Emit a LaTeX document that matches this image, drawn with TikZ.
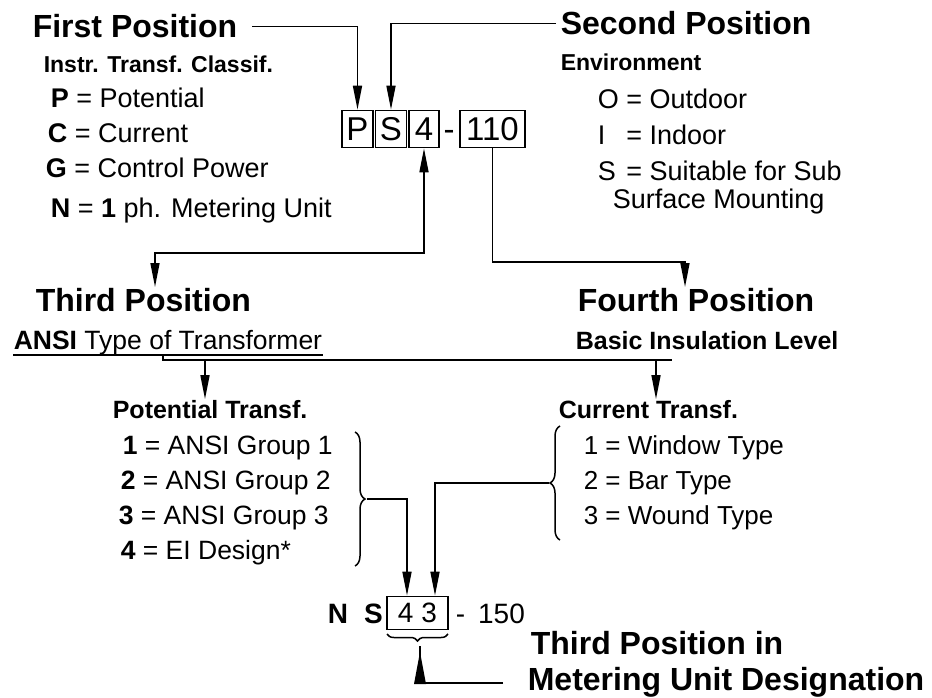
\documentclass[tikz,border=0pt]{standalone}
\usepackage{fontspec}
\setmainfont{Liberation Sans}
\usetikzlibrary{arrows.meta,decorations.pathreplacing,calc}
\newcommand\fsz[1]{\fontsize{#1}{#1}\selectfont}
\begin{document}
\begin{tikzpicture}[x=1pt,y=-1pt,line width=1.6pt,
  txt/.style={inner sep=0pt,anchor=base west},
  head/.style={txt,font=\fsz{32}\bfseries},
  sub/.style={txt,font=\fsz{23}\bfseries},
  item/.style={txt,font=\fsz{27}},
  itemb/.style={txt,font=\fsz{26.5}},
  codebox/.style={draw,line width=1.8pt,inner sep=0pt,minimum height=37pt,font=\fsz{33}},
  arr/.style={-{Triangle[length=24pt,width=9pt]}},
  dbl/.style={{Triangle[length=24pt,width=9pt]}-{Triangle[length=24pt,width=9pt]}},
  brc/.style={decorate,decoration={brace,amplitude=10pt},line width=1.5pt},
  ubrc/.style={decorate,decoration={brace,amplitude=7pt},line width=1.5pt}
]
\useasboundingbox (0,0) rectangle (932,698);

% ---- top headings
\node[head] (fp) at (32,38) {First Position};
\node[head] (sp) at (560,35) {Second Position};

% ---- first position list
\node[sub] (instr) at (43,73) {Instr. Transf. Classif.};
\node[item] (ip) at (50,108) {\textbf{P} = Potential};
\node[item] (ic) at (47,143) {\textbf{C} = Current};
\node[item] (ig) at (45,178) {\textbf{G} = Control Power};
\node[item] (in) at (50,218) {\textbf{N} = \textbf{1} ph. Metering Unit};

% ---- second position list
\node[sub] (env) at (560,71) {Environment};
\node[item] (eo) at (597,109) {\makebox[21pt][l]{O} = Outdoor};
\node[item] (ei) at (597,145) {\makebox[21pt][l]{I} = Indoor};
\node[item] (es) at (597,180) {\makebox[21pt][l]{S} = Suitable for Sub};
\node[item] (es2) at (612,208) {Surface Mounting};

% ---- code boxes
\node[codebox,minimum width=31pt] (bP) at (357.5,129) {P};
\node[codebox,minimum width=31pt] (bS) at (391,129) {S};
\node[codebox,minimum width=30pt] (b4) at (424,129) {4};
\node[inner sep=0pt,anchor=base,font=\fsz{33}] (dash) at (449,141) {-};
\node[codebox,minimum width=65pt] (b110) at (492.5,129) {110};

\draw[arr] ([xshift=14pt]fp.east) -| (bP.north);
\draw[arr] ([xshift=-4pt]sp.west) -| (bS.north);

% ---- third / fourth
\node[head] (tp) at (35,311) {Third Position};
\node[head] (fo) at (577,311) {Fourth Position};
\coordinate (t3) at (155,253);
\coordinate (t4) at (685,262);
\draw[dbl] (b4.south) |- (t3) -- (t3 |- tp.north);
\draw[arr] (b110.south) |- (t4) -- (t4 |- fo.north);

\node[txt,font=\fsz{26.5}] (ansi) at (13,349) {\textbf{ANSI} Type of Transformer};
\node[txt,font=\fsz{25}\bfseries] (bil) at (575,349) {Basic Insulation Level};
\draw ($(ansi.base west)+(0,6)$) -- ($(ansi.base east)+(0,6)$);
\coordinate (bl) at (163,360);
\coordinate (br) at (672,360);
\draw ($(bl)+(0,-5)$) -- (bl) -- (br);

\node[txt,font=\fsz{25}\bfseries] (pt) at (112,418) {Potential Transf.};
\node[txt,font=\fsz{25}\bfseries] (ct) at (558,418) {Current Transf.};
\coordinate (pa) at (205,360);
\coordinate (ca) at (656,360);
\draw[arr] (pa) -- (pa |- pt.north);
\draw[arr] (ca) -- (ca |- ct.north);

% ---- potential items
\node[itemb] (p1) at (122,454) {\textbf{1} = ANSI Group 1};
\node[itemb] (p2) at (120,489) {\textbf{2} = ANSI Group 2};
\node[itemb] (p3) at (118,524) {\textbf{3} = ANSI Group 3};
\node[itemb] (p4) at (120,559) {\textbf{4} = EI Design*};

% ---- current items
\node[txt,font=\fsz{26}] (c1) at (583,454) {1 = Window Type};
\node[txt,font=\fsz{26}] (c2) at (583,489) {2 = Bar Type};
\node[txt,font=\fsz{26}] (c3) at (583,524) {3 = Wound Type};

% ---- braces
\draw[brc] (355,432) -- (355,566);
\draw[brc] (560,540) -- (560,426);

% ---- metering unit designation
\node[txt,font=\fsz{28}\bfseries] (ns) at (327,623) {N\hspace{16pt}S};
\node[draw,line width=1.6pt,inner sep=0pt,minimum width=61pt,minimum height=33pt,font=\fsz{28}] (b43) at (417.5,613) {4\hspace{8pt}3};
\node[txt,font=\fsz{28}] (n150) at (455,623) {-\hspace{13pt}150};

\coordinate (pb) at (367,499);
\coordinate (pd) at (407,499);
\coordinate (cb) at (549,483);
\coordinate (cd) at (435,483);
\draw[arr] (pb) -- (pd) -- (pd |- b43.north);
\draw[arr] (cb) -- (cd) -- (cd |- b43.north);

\draw[ubrc] (448,634) -- (387,634);
\node[head] (tpi) at (530,654) {Third Position in};
\node[head] (mud) at (527,690) {Metering Unit Designation};
\coordinate (ut) at (420,646);
\coordinate (lc) at (420,683);
\coordinate (le) at (503,683);
\draw (le) -- (lc) -- (ut);
\fill (414,684) -- (426,684) -- (420,652) -- cycle;
\end{tikzpicture}
\end{document}
